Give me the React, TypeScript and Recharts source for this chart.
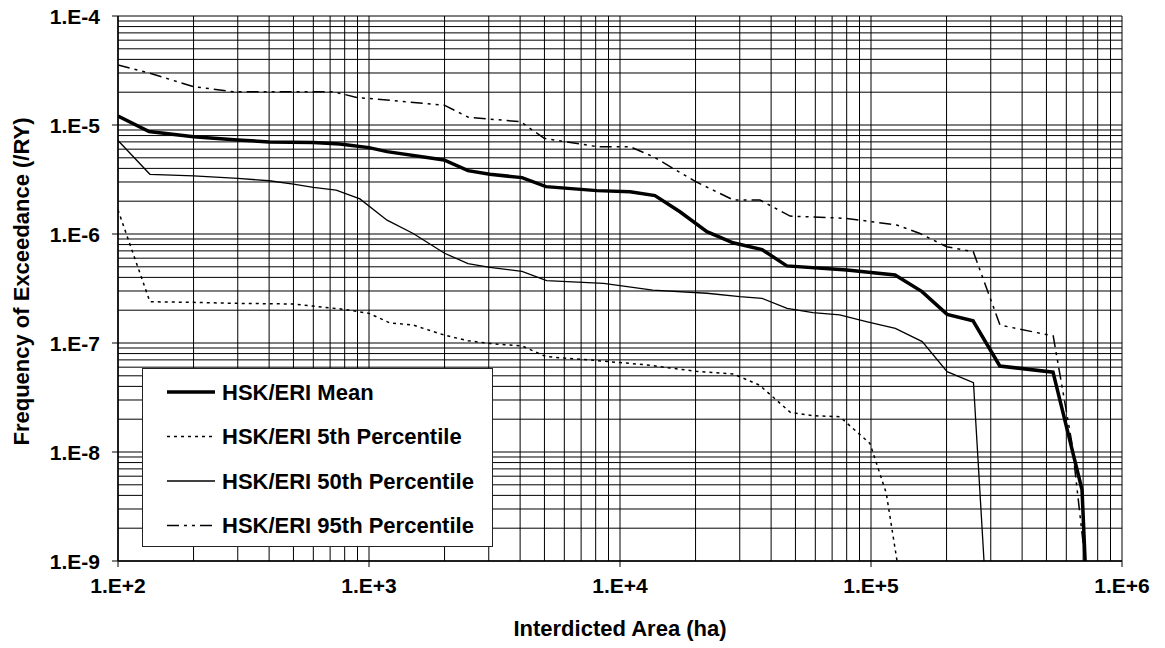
import { CartesianGrid, Legend, Line, LineChart, XAxis, YAxis } from "recharts";

const FONT = '"Liberation Sans", Arial, sans-serif';

// axes
const X_DECADES = [1e2, 1e3, 1e4, 1e5, 1e6];
const X_TICK_LABELS = ["1.E+2", "1.E+3", "1.E+4", "1.E+5", "1.E+6"];
const Y_DECADES = [1e-9, 1e-8, 1e-7, 1e-6, 1e-5, 1e-4];
const Y_TICK_LABELS = ["1.E-9", "1.E-8", "1.E-7", "1.E-6", "1.E-5", "1.E-4"];
const MINOR_STEPS = [1, 2, 3, 4, 5, 6, 7, 8, 9];

// HSK/ERI Mean
const meanArea = [100, 133, 200, 300, 400, 600, 765, 1000, 1180, 1990, 2480, 3030, 4070, 5070, 8090, 10970, 13780, 17330, 22200, 28200, 36800, 46200, 80100, 124700, 159700, 201000, 255000, 326000, 531000, 693000, 713000];
const meanFreq = [1.21e-5, 8.7e-6, 7.8e-6, 7.3e-6, 7.0e-6, 6.9e-6, 6.7e-6, 6.2e-6, 5.7e-6, 4.78e-6, 3.81e-6, 3.53e-6, 3.29e-6, 2.72e-6, 2.5e-6, 2.44e-6, 2.25e-6, 1.6e-6, 1.05e-6, 8.3e-7, 7.2e-7, 5.1e-7, 4.68e-7, 4.2e-7, 2.96e-7, 1.83e-7, 1.6e-7, 6.15e-8, 5.4e-8, 4.5e-9, 1e-9];

// HSK/ERI 5th Percentile
const p5Area = [100, 134, 200, 300, 500, 600, 790, 1000, 1210, 1500, 2000, 2480, 3030, 4070, 5070, 8100, 12700, 20100, 28300, 36000, 47700, 58800, 75000, 99000, 115000, 127000];
const p5Freq = [1.66e-6, 2.39e-7, 2.36e-7, 2.31e-7, 2.28e-7, 2.18e-7, 2.04e-7, 1.87e-7, 1.53e-7, 1.46e-7, 1.18e-7, 1.05e-7, 9.9e-8, 9.4e-8, 7.5e-8, 6.9e-8, 6.3e-8, 5.5e-8, 5.2e-8, 4.1e-8, 2.31e-8, 2.15e-8, 2.11e-8, 1.2e-8, 4.2e-9, 1e-9];

// HSK/ERI 50th Percentile
const p50Area = [100, 134, 200, 300, 400, 500, 600, 740, 920, 1180, 1500, 2000, 2480, 3030, 4070, 5100, 8600, 13500, 22200, 30000, 36800, 46300, 58700, 75000, 95800, 125000, 160000, 201000, 256000, 282000];
const p50Freq = [7.2e-6, 3.53e-6, 3.41e-6, 3.24e-6, 3.08e-6, 2.87e-6, 2.68e-6, 2.53e-6, 2.1e-6, 1.34e-6, 1.01e-6, 6.66e-7, 5.35e-7, 4.95e-7, 4.55e-7, 3.73e-7, 3.53e-7, 3.06e-7, 2.86e-7, 2.66e-7, 2.57e-7, 2.08e-7, 1.9e-7, 1.81e-7, 1.57e-7, 1.36e-7, 1.03e-7, 5.46e-8, 4.33e-8, 1e-9];

// HSK/ERI 95th Percentile
const p95Area = [100, 134, 200, 288, 721, 893, 1995, 2486, 4020, 4990, 8070, 10960, 13570, 20030, 28300, 36100, 47600, 80000, 126600, 156800, 200300, 255600, 326600, 532000, 632000, 713000];
const p95Freq = [3.55e-5, 2.98e-5, 2.25e-5, 2.02e-5, 2.02e-5, 1.79e-5, 1.52e-5, 1.18e-5, 1.07e-5, 7.55e-6, 6.33e-6, 6.33e-6, 5.12e-6, 3.02e-6, 2.05e-6, 2.05e-6, 1.46e-6, 1.39e-6, 1.21e-6, 1.01e-6, 7.64e-7, 6.88e-7, 1.46e-7, 1.16e-7, 1.2e-8, 1e-9];

const zip = (xs: number[], ys: number[]) => xs.map((x, i) => ({ x, y: ys[i] }));

const SERIES = [
  { name: "HSK/ERI Mean", data: zip(meanArea, meanFreq), width: 3.5, dash: undefined },
  { name: "HSK/ERI 5th Percentile", data: zip(p5Area, p5Freq), width: 1.5, dash: "3 4" },
  { name: "HSK/ERI 50th Percentile", data: zip(p50Area, p50Freq), width: 1.3, dash: undefined },
  { name: "HSK/ERI 95th Percentile", data: zip(p95Area, p95Freq), width: 1.5, dash: "12 5 3 5 3 5" },
];

const withMinor = (decades: number[]) => {
  const out: number[] = [];
  decades.slice(0, -1).forEach((d) => MINOR_STEPS.forEach((s) => out.push(d * s)));
  out.push(decades[decades.length - 1]);
  return out;
};
const X_GRID = withMinor(X_DECADES);
const Y_GRID = withMinor(Y_DECADES);

const TICK_SIZE = 6;
const X_MARGIN = 18;
const Y_MARGIN = 12;

function XTick(props: any) {
  const { x, y, payload } = props;
  const i = X_DECADES.indexOf(payload.value);
  if (i < 0) return <g />;
  return (
    <g>
      <line x1={x} x2={x} y1={y - X_MARGIN - TICK_SIZE} y2={y - X_MARGIN} stroke="#000" />
      <text x={x} y={y} textAnchor="middle" dominantBaseline="central" fontSize={21} fontWeight={700} fontFamily={FONT} fill="#000">
        {X_TICK_LABELS[i]}
      </text>
    </g>
  );
}

function YTick(props: any) {
  const { x, y, payload } = props;
  const i = Y_DECADES.indexOf(payload.value);
  if (i < 0) return <g />;
  return (
    <g>
      <line x1={x + Y_MARGIN} x2={x + Y_MARGIN + TICK_SIZE} y1={y} y2={y} stroke="#000" />
      <text x={x} y={y} textAnchor="end" dominantBaseline="central" fontSize={21} fontWeight={700} fontFamily={FONT} fill="#000">
        {Y_TICK_LABELS[i]}
      </text>
    </g>
  );
}

function XTitle(props: any) {
  const vb = props.viewBox || { x: 118, y: 561, width: 1004 };
  return (
    <text x={vb.x + vb.width / 2} y={vb.y + 67} textAnchor="middle" dominantBaseline="central" fontSize={22} fontWeight={700} fontFamily={FONT} fill="#000">
      Interdicted Area (ha)
    </text>
  );
}

function YTitle(props: any) {
  const vb = props.viewBox || { x: 0, y: 16, height: 545 };
  const cx = vb.x + 21;
  const cy = vb.y + vb.height / 2 - 7;
  return (
    <text x={cx} y={cy} transform={`rotate(-90 ${cx} ${cy})`} textAnchor="middle" dominantBaseline="central" fontSize={22} fontWeight={700} fontFamily={FONT} fill="#000">
      Frequency of Exceedance (/RY)
    </text>
  );
}

function LegendBox() {
  return (
    <div style={{ width: 351, height: 179, boxSizing: "border-box", border: "1.5px solid #222", background: "#fff" }}>
      <svg width={348} height={176} style={{ display: "block" }}>
        {SERIES.map((s, i) => {
          const y = 23 + i * 44.5;
          return (
            <g key={s.name}>
              <line x1={24} x2={72} y1={y} y2={y} stroke="#000" strokeWidth={s.width} strokeDasharray={s.dash} />
              <text x={79} y={y} dominantBaseline="central" fontSize={22} fontWeight={700} fontFamily={FONT} fill="#000">
                {s.name}
              </text>
            </g>
          );
        })}
      </svg>
    </div>
  );
}

export default function App() {
  return (
    <div style={{ position: "absolute", left: 0, top: 0, width: 1165, height: 648, background: "#fff", fontFamily: FONT }}>
      <LineChart width={1165} height={648} margin={{ top: 16, right: 43, bottom: 0, left: 0 }}>
        <CartesianGrid stroke="#000" strokeWidth={1} />
        <XAxis
          dataKey="x"
          type="number"
          scale="log"
          domain={[1e2, 1e6]}
          allowDataOverflow
          ticks={X_GRID}
          interval={0}
          height={87}
          tickSize={TICK_SIZE}
          tickMargin={X_MARGIN}
          tickLine={false}
          tick={XTick}
          axisLine={{ stroke: "#000", strokeWidth: 1.5 }}
          label={{ content: XTitle }}
        />
        <YAxis
          dataKey="y"
          type="number"
          scale="log"
          domain={[1e-9, 1e-4]}
          allowDataOverflow
          ticks={Y_GRID}
          interval={0}
          width={118}
          tickSize={TICK_SIZE}
          tickMargin={Y_MARGIN}
          tickLine={false}
          tick={YTick}
          axisLine={{ stroke: "#000", strokeWidth: 1.5 }}
          label={{ content: YTitle }}
        />
        <Legend
          layout="horizontal"
          verticalAlign="middle"
          align="center"
          wrapperStyle={{ left: 142, top: 368, width: 351, height: 179 }}
          content={LegendBox}
        />
        {SERIES.map((s) => (
          <Line
            key={s.name}
            name={s.name}
            data={s.data}
            dataKey="y"
            type="linear"
            stroke="#000"
            strokeWidth={s.width}
            strokeDasharray={s.dash}
            dot={false}
            activeDot={false}
            isAnimationActive={false}
          />
        ))}
      </LineChart>
    </div>
  );
}
